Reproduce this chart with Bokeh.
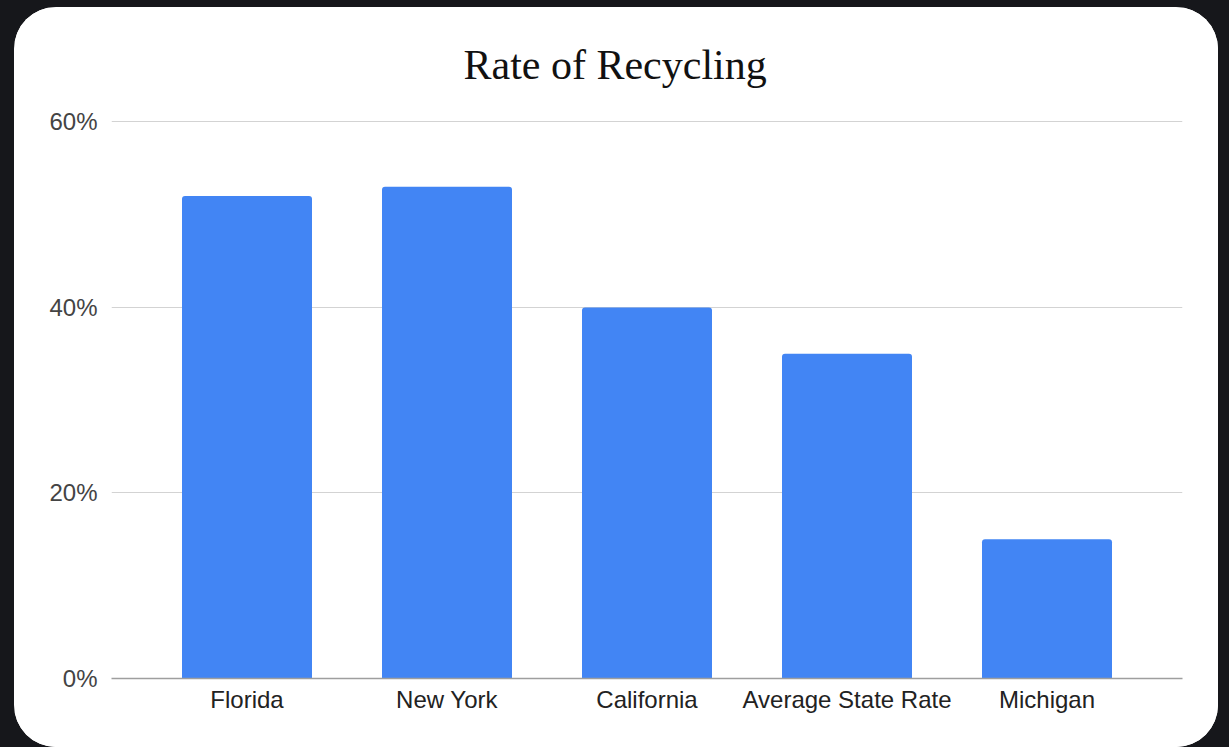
from bokeh.plotting import figure
from bokeh.models import FactorRange, Range1d, FixedTicker, NumeralTickFormatter, ColumnDataSource
from bokeh.layouts import column
from bokeh.embed import file_html
from bokeh.resources import INLINE

# Recycling rate by state
states = ["Florida", "New York", "California", "Average State Rate", "Michigan"]
rates = [0.52, 0.53, 0.40, 0.35, 0.15]
y_ticks = [0.0, 0.2, 0.4, 0.6]

source = ColumnDataSource(data=dict(state=states, rate=rates))

p = figure(
    x_range=FactorRange(factors=states, range_padding=0.071),
    y_range=Range1d(0, 0.6025),
    width=1204, height=740,
    output_backend="svg", toolbar_location=None,
    title="Rate of Recycling",
    min_border_left=97, min_border_right=36,
    min_border_top=112, min_border_bottom=69,
    margin=(7, 11, 0, 14),
    outline_line_color=None,
    border_fill_color="white",
    background_fill_color="white",
)
# white rounded card behind the whole canvas
p.styles = {"border-radius": "42px", "overflow": "hidden", "background-color": "white"}

p.title.text_font = "Liberation Serif"
p.title.text_font_size = "42px"
p.title.text_font_style = "normal"
p.title.text_color = "#111111"
p.title.text_line_height = 1.0
p.title.align = "left"
p.title.offset = 352
p.title.standoff = 63

p.vbar(x="state", top="rate", width=0.65, source=source,
       fill_color="#4285F4", line_color=None, border_radius=(3, 3, 0, 0))

p.xgrid.visible = False
p.ygrid.grid_line_color = "#d3d3d3"
p.ygrid.grid_line_width = 1.2
p.ygrid.ticker = FixedTicker(ticks=y_ticks)

p.yaxis.ticker = FixedTicker(ticks=y_ticks)
p.yaxis.formatter = NumeralTickFormatter(format="0%")
p.yaxis.axis_line_color = None
p.yaxis.major_tick_line_color = None
p.yaxis.minor_tick_line_color = None
p.yaxis.major_label_text_font = "Liberation Sans"
p.yaxis.major_label_text_font_size = "24px"
p.yaxis.major_label_text_color = "#444444"
p.yaxis.major_label_standoff = 8

p.xaxis.axis_line_color = "#9e9e9e"
p.xaxis.axis_line_width = 1.5
p.xaxis.major_tick_line_color = None
p.xaxis.minor_tick_line_color = None
p.xaxis.major_label_text_font = "Liberation Sans"
p.xaxis.major_label_text_font_size = "24px"
p.xaxis.major_label_text_color = "#222222"
p.xaxis.major_label_standoff = 1

page = column(p, width=1229, height=747, styles={"background-color": "#16171b"})

open("out.html", "w").write(file_html(page, INLINE))
